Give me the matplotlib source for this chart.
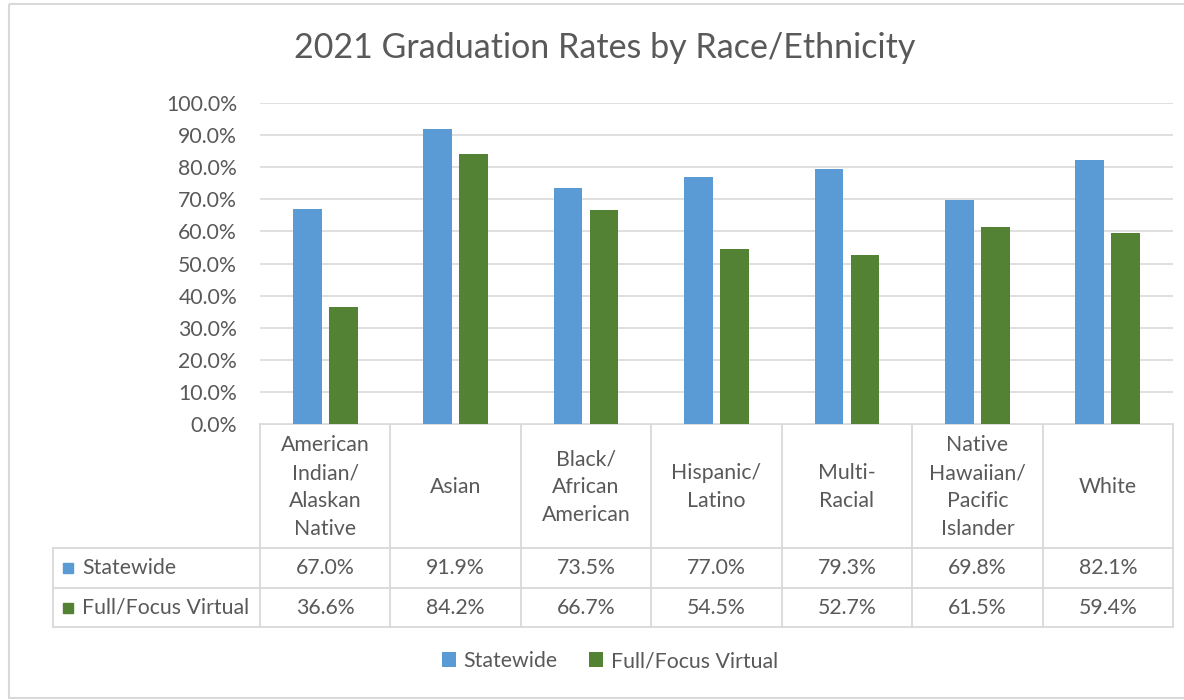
import matplotlib.pyplot as plt
from matplotlib.patches import Rectangle
from matplotlib.ticker import PercentFormatter

plt.rcParams['font.family'] = ['Lato', 'DejaVu Sans']

categories = ["American\nIndian/\nAlaskan\nNative", "Asian", "Black/\nAfrican\nAmerican",
              "Hispanic/\nLatino", "Multi-\nRacial", "Native\nHawaiian/\nPacific\nIslander", "White"]
statewide = [67.0, 91.9, 73.5, 77.0, 79.3, 69.8, 82.1]
virtual = [36.6, 84.2, 66.7, 54.5, 52.7, 61.5, 59.4]
series_names = ["Statewide", "Full/Focus Virtual"]
yticks = [0, 10, 20, 30, 40, 50, 60, 70, 80, 90, 100]

blue = "#5B9BD5"
green = "#548235"
txt = "#595959"
grid = "#D9D9D9"
fs = 15.3

W, H = 1184, 700
fig = plt.figure(figsize=(W / 100, H / 100), dpi=100)

# chart area in pixel units
left, right, top, base = 260, 1173, 103, 424
ax = fig.add_axes([left / W, 1 - base / H, (right - left) / W, (base - top) / H])

n = len(categories)
x = list(range(n))
bw = 0.22
off = 0.138
b1 = ax.bar([i - off for i in x], statewide, bw, color=blue, label=series_names[0], zorder=3)
b2 = ax.bar([i + off for i in x], virtual, bw, color=green, label=series_names[1], zorder=3)

ax.set_xlim(-0.5, n - 0.5)
ax.set_ylim(0, 100)
ax.set_yticks(yticks)
ax.yaxis.set_major_formatter(PercentFormatter(decimals=1))
ax.tick_params(axis='y', length=0, pad=16.5, labelsize=fs, labelcolor=txt)
ax.set_xticks([])
ax.grid(axis='y', color=grid, linewidth=1.2, zorder=0)
for s in ax.spines.values():
    s.set_visible(False)

fig.suptitle("2021 Graduation Rates by Race/Ethnicity", x=605 / W, y=1 - 48 / H, va='center',
             fontsize=24.5, color=txt)

# data table drawn in pixel coordinates
ov = fig.add_axes([0, 0, 1, 1], zorder=-1)
ov.set_xlim(0, W)
ov.set_ylim(H, 0)
ov.axis('off')

ov.add_patch(Rectangle((9, 4), W + 20, H - 6, fill=False, edgecolor=grid, linewidth=1.5))

tleft = 53
r0, r1, r2, r3 = base, 548, 588, 627
cw = (right - left) / n
lc = dict(color=grid, linewidth=1.3)
ov.plot([left, right], [r0, r0], **lc)
for yy in (r1, r2, r3):
    ov.plot([tleft, right], [yy, yy], **lc)
ov.plot([tleft, tleft], [r1, r3], **lc)
for k in range(n + 1):
    ov.plot([left + k * cw] * 2, [r0, r3], **lc)

for k, lab in enumerate(categories):
    cx = left + (k + 0.5) * cw
    ov.text(cx, (r0 + r1) / 2 + 1, lab, ha='center', va='center', fontsize=fs,
            color=txt, linespacing=1.5)
    ov.text(cx, (r1 + r2) / 2, f"{statewide[k]:.1f}%", ha='center', va='center',
            fontsize=fs, color=txt)
    ov.text(cx, (r2 + r3) / 2, f"{virtual[k]:.1f}%", ha='center', va='center',
            fontsize=fs, color=txt)

for yy, name, col in (((r1 + r2) / 2, series_names[0], blue), ((r2 + r3) / 2, series_names[1], green)):
    ov.add_patch(Rectangle((63, yy - 5), 10, 10, color=col))
    ov.text(82, yy, name, ha='left', va='center', fontsize=fs, color=txt)

fig.legend(handles=[b1, b2], loc='center', bbox_to_anchor=(610 / W, 1 - 661 / H), ncol=2,
           frameon=False, fontsize=fs, labelcolor=txt, handlelength=0.65, handleheight=0.65,
           handletextpad=0.35, columnspacing=1.5)

fig.savefig("out.png", dpi=100)
